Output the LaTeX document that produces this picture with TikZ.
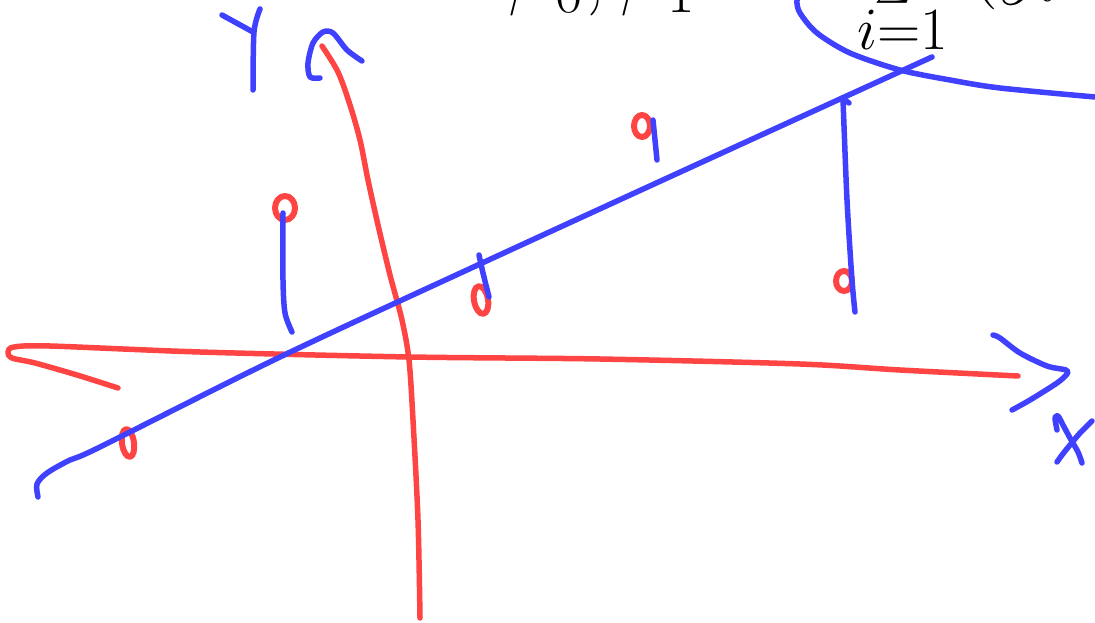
\RequirePackage{fix-cm}
\documentclass[tikz,border=0pt]{standalone}
\usepackage{exscale}
\usetikzlibrary{shapes.geometric}
\definecolor{penred}{RGB}{255,68,68}
\definecolor{penblue}{RGB}{64,64,255}
\begin{document}
\begin{tikzpicture}[x=1pt,y=-1pt,line cap=round,line join=round,
  redpen/.style={draw=penred,line width=5.5pt},
  bluepen/.style={draw=penblue,line width=5.5pt},
  datapt/.style={draw=penred,line width=6pt},
  mathtxt/.style={inner sep=0pt,font=\fontsize{85}{85}\selectfont}]
\useasboundingbox (0,0) rectangle (1095,623);
\clip (0,0) rectangle (1095,623);
% formula (cut off at the top)
\node[mathtxt,anchor=base west] (formula) at (508,0) {$\hat\beta_0,\hat\beta_1=$};
\node[mathtxt,anchor=south] (sum) at (893,7) {$\displaystyle\sum$};
\node[mathtxt,anchor=base west] (rest) at (968,-11) {$(y_i$};
\node[anchor=base,inner sep=0pt,font=\fontsize{60}{60}\selectfont] (limit) at (903,50) {$i{=}1$};
% red axes
\draw[redpen] plot[smooth,tension=0.5] coordinates {(118,388) (77,375) (35,363) (12,358) (8,352) (14,347) (50,346) (200,352) (410,357) (600,359) (800,364) (900,370) (1018,376)};
\draw[redpen] plot[smooth,tension=0.5] coordinates {(420,618) (418,520) (413,420) (409,360) (402,320) (390,275) (378,225) (368,180) (360,140) (350,105) (338,72) (322,46)};
% red data points
\draw[datapt] (285,208) ellipse [x radius=10,y radius=12];
\draw[datapt,rotate around={10:(481,300)}] (481,300) ellipse [x radius=7,y radius=14];
\draw[datapt] (642,126) ellipse [x radius=8,y radius=11];
\draw[datapt] (844,281) ellipse [x radius=8,y radius=10];
\draw[datapt,rotate around={8:(128,443)}] (128,443) ellipse [x radius=6,y radius=14];
% blue arrow heads and labels
\draw[bluepen] plot[smooth,tension=0.5] coordinates {(320,78) (310,77) (308,63) (313,43) (323,32) (333,33) (347,50) (362,61)};
\draw[bluepen] (222,15) -- (253,32);
\draw[bluepen] plot[smooth,tension=0.5] coordinates {(260,9) (254,32) (253,90)};
\draw[bluepen] plot[smooth,tension=0.5] coordinates {(993,335) (1000,338) (1020,353) (1047,366) (1066,370) (1067,374) (1057,383) (1030,400) (1012,410)};
\draw[bluepen] plot[smooth,tension=0.5] coordinates {(1057,430) (1055,418) (1058,416) (1063,425) (1070,438) (1078,452) (1082,463)};
\draw[bluepen] plot[smooth,tension=0.5] coordinates {(1092,421) (1080,433) (1070,445) (1062,455) (1057,462)};
% fitted line
\draw[bluepen] plot[smooth,tension=0.5] coordinates {(38,497) (37,484) (47,473) (70,460) (100,447) (280,357) (480,264) (700,163) (932,57)};
% big curve
\draw[bluepen] plot[smooth,tension=0.5] coordinates {(802,-15) (797,0) (800,13) (817,33) (850,53) (900,70) (950,80) (1000,88) (1095,97)};
% residuals
\draw[bluepen] plot[smooth,tension=0.5] coordinates {(283,213) (283,280) (285,313) (292,332)};
\draw[bluepen] plot[smooth,tension=0.5] coordinates {(479,255) (483,273) (489,297)};
\draw[bluepen] plot[smooth,tension=0.5] coordinates {(653,120) (655,140) (657,160)};
\draw[bluepen] plot[smooth,tension=0.5] coordinates {(843,99) (847,200) (852,280) (855,312)};
\draw[bluepen] (842,98) -- (849,103);
\end{tikzpicture}
\end{document}
